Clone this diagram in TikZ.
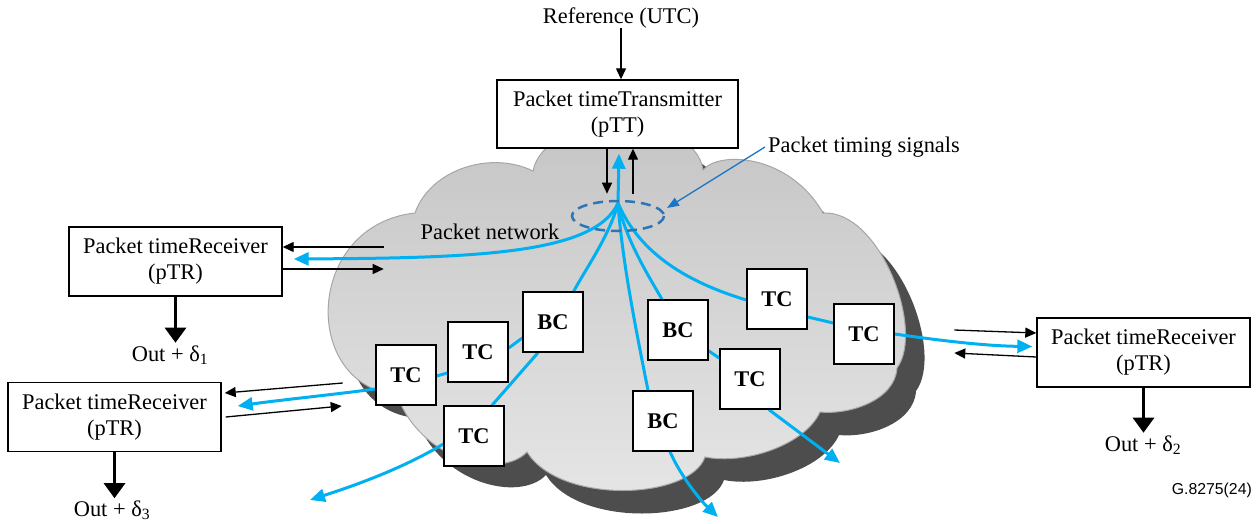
\documentclass[tikz,border=0pt]{standalone}
\usepackage{fontspec}
\setmainfont{Liberation Serif}
\newfontfamily\arialf{Liberation Sans}
\usetikzlibrary{arrows.meta,calc}
\pgfdeclarelayer{background}
\pgfsetlayers{background,main}
\definecolor{sig}{HTML}{00B0F0}
\definecolor{leadc}{HTML}{1B75C4}
\definecolor{dashc}{HTML}{2E75B6}
\definecolor{shadowc}{HTML}{4D4D4D}
\definecolor{cloudtop}{HTML}{C4C4C4}
\definecolor{cloudbot}{HTML}{E6E6E6}
\definecolor{cloudline}{HTML}{A6A6A6}
\newcommand{\cloudshape}[1]{%
  \path[#1] (415,213) .. controls (430,170) and (490,150) .. (533,171)
    .. controls (545,110) and (695,110) .. (703,170)
    .. controls (720,150) and (790,155) .. (823,213)
    .. controls (880,210) and (925,330) .. (897,368)
    .. controls (895,400) and (850,415) .. (820,412)
    .. controls (805,445) and (745,465) .. (705,457)
    .. controls (690,500) and (560,505) .. (527,452)
    .. controls (500,480) and (420,460) .. (397,395)
    .. controls (300,385) and (305,225) .. (415,213) -- cycle;}
\begin{document}
\begin{tikzpicture}[x=1pt,y=-1pt,
  txt/.style={font=\fontsize{22.4}{26}\selectfont, inner sep=0pt},
  bigbox/.style={draw, line width=1.4pt, fill=white, minimum width=213pt, minimum height=69pt,
     align=center, inner sep=0pt, font=\fontsize{22.4}{26}\selectfont},
  cbox/.style={draw, line width=1.4pt, fill=white, minimum width=60pt, minimum height=60pt,
     inner sep=0pt, font=\bfseries\fontsize{22.4}{26}\selectfont},
  sigline/.style={sig, line width=3pt},
  sigarrow/.style={sig, line width=3pt, -{Triangle[length=15pt,width=13pt]}},
  blackarrow/.style={black, line width=1.3pt, -{Triangle[length=11pt,width=10pt]}},
  thickarrow/.style={black, line width=3pt, -{Triangle[length=15pt,width=21pt]}},
  leadarrow/.style={leadc, line width=1.3pt, -{Triangle[length=12pt,width=9pt]}}]
\useasboundingbox (0,0) rectangle (1260,524);

% boxes and texts
\node[txt] (ref) at (621,18) {Reference (UTC)};
\node[bigbox, minimum width=241pt, minimum height=68pt] (ptt) at (617.5,114) {Packet timeTransmitter\\(pTT)};
\node[bigbox] (r1) at (175.5,261.5) {Packet timeReceiver\\(pTR)};
\node[bigbox] (r3) at (114.5,417) {Packet timeReceiver\\(pTR)};
\node[bigbox] (r2) at (1143.5,352.5) {Packet timeReceiver\\(pTR)};
\node[txt, anchor=west] (pts) at (768,147) {Packet timing signals};
\node[txt] (pn) at (490,232) {Packet network};
\node[txt] (o1) at (170,355) {Out + δ\textsubscript{1}};
\node[txt] (o3) at (112,510) {Out + δ\textsubscript{3}};
\node[txt] (o2) at (1143,445) {Out + δ\textsubscript{2}};
\node[anchor=east, inner sep=0pt, font=\arialf\fontsize{15.8}{18}\selectfont] (gid) at (1252,490) {G.8275(24)};

\node[cbox] (tca) at (406,375) {TC};
\node[cbox] (tcb) at (478,352) {TC};
\node[cbox] (bcc) at (553,322) {BC};
\node[cbox] (tcd) at (474,436) {TC};
\node[cbox] (bce) at (678,330) {BC};
\node[cbox] (bcf) at (663,421) {BC};
\node[cbox] (tcg) at (750,379) {TC};
\node[cbox] (tch) at (777,299) {TC};
\node[cbox] (tci) at (864,334) {TC};

\coordinate (O) at (618,203);
\coordinate (t1) at ($(r1.east)+(11,-2.5)$);
\coordinate (t3) at ($(r3.east)+(16,-11)$);
\coordinate (t2) at ($(r2.west)+(-4,-6)$);
\coordinate (tg) at (840,463);
\coordinate (tf) at (718,517);
\coordinate (td) at (310,500);
\coordinate (lt) at (667,208);

\begin{pgfonlayer}{background}
  \cloudshape{fill=shadowc, shift={(19,23)}}
  \cloudshape{top color=cloudtop, bottom color=cloudbot, draw=cloudline, line width=1pt}

  % packet timing signals (blue)
  \draw[sigarrow] (O) -- ($(ptt.south)+(1.5,5)$);
  \draw[sigarrow] (O) .. controls (595,255) and (470,258) .. (t1);
  \draw[sigline] (O) .. controls (610,235) and (585,270) .. ($(bcc.north east)+(-10,0)$);
  \draw[sigline] (O) .. controls (622,260) and (636,330) .. ($(bcf.north)+(-15,0)$);
  \draw[sigline] (O) .. controls (626,240) and (648,275) .. ($(bce.north)+(-16,0)$);
  \draw[sigline] (O) .. controls (640,255) and (690,283) .. ($(tch.west)+(0,1)$);
  \draw[sigline] ($(tch.east)+(0,18)$) -- ($(tci.west)+(0,-11)$);
  \draw[sigarrow] (tci.east) .. controls (950,342) and (990,346) .. (t2);
  \draw[sigline] (bce) -- (tcg);
  \draw[sigarrow] ($(tcg.south)+(19,0)$) -- (tg);
  \draw[sigarrow] ($(bcf.south)+(7,0)$) .. controls (680,475) and (700,500) .. (tf);
  \draw[sigline] ($(bcc.south)+(-15,0)$) -- ($(tcd.north)+(18,0)$);
  \draw[sigline] ($(tcb.east)+(0,-4)$) -- ($(bcc.west)+(0,16)$);
  \draw[sigline] ($(tca.east)+(0,1)$) -- ($(tcb.west)+(0,21)$);
  \draw[sigarrow] ($(tca.west)+(0,14)$) .. controls (330,395) and (280,400) .. (t3);
  \draw[sigarrow] ($(tcd.west)+(0,8)$) .. controls (400,470) and (350,487) .. (td);

  \draw[dashc, line width=2.5pt, dash pattern=on 10pt off 6pt] (618,216) ellipse [x radius=46, y radius=15];

  % black message arrows
  \draw[blackarrow] (ref.south) -- (ref.south |- ptt.north);
  \draw[blackarrow] ($(ptt.south)+(-10.5,0)$) -- ++(0,45);
  \draw[blackarrow] ($(ptt.south)+(15.5,45)$) -- ($(ptt.south)+(15.5,0)$);
  \draw[blackarrow] ($(r1.east)+(101,-14.5)$) -- ($(r1.east)+(0,-14.5)$);
  \draw[blackarrow] ($(r1.east)+(0,7.5)$) -- ($(r1.east)+(101,7.5)$);
  \draw[blackarrow] ($(r3.east)+(121,-34)$) -- ($(r3.east)+(3,-24)$);
  \draw[blackarrow] ($(r3.east)+(4,0)$) -- ($(r3.east)+(120,-11)$);
  \draw[blackarrow] ($(r2.west)+(-82,-22.5)$) -- ($(r2.west)+(0,-19.5)$);
  \draw[blackarrow] ($(r2.west)+(0,4.5)$) -- ($(r2.west)+(-82,0.5)$);
  \draw[thickarrow] (r1.south) -- ++(0,46);
  \draw[thickarrow] (r3.south) -- ++(0,46);
  \draw[thickarrow] (r2.south) -- ++(0,45);

  \draw[leadarrow] ($(pts.west)+(-3,0)$) -- (lt);
\end{pgfonlayer}
\end{tikzpicture}
\end{document}
